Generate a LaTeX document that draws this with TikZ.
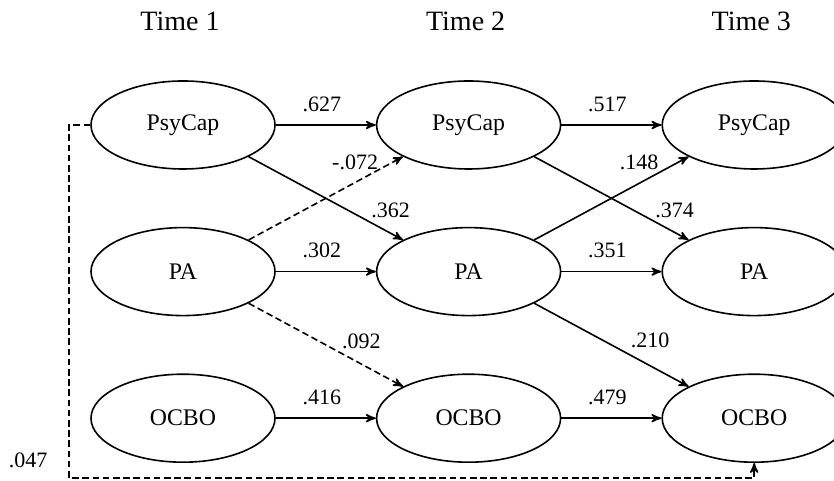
\documentclass[tikz,border=0pt]{standalone}
\usepackage{fontspec}
\setmainfont{Liberation Serif}
\usetikzlibrary{arrows,positioning,shapes.geometric}

\begin{document}
\begin{tikzpicture}[>=stealth', line width=0.8pt, node distance=28.5pt and 50pt,
		var/.style={ellipse, draw, minimum width=92pt, minimum height=44pt, inner sep=0pt, font=\fontsize{11.9}{14}\selectfont},
		lbl/.style={font=\fontsize{11}{13}\selectfont, inner sep=0pt},
		ttl/.style={font=\fontsize{14}{16}\selectfont, xshift=-1.5pt},
		dsh/.style={dash pattern=on 3.3pt off 1.8pt}]
		\useasboundingbox (0,0) rectangle (417pt,240.5pt);
		\node[var] (psy_1) at (91.5pt,178pt) {PsyCap};
		\node[var] [right=of psy_1] (psy_2) {PsyCap};
		\node[var] [right=of psy_2] (psy_3) {PsyCap};
		\node[var] [below=of psy_1] (pa_1) {PA};
		\node[var] [below=of psy_2] (pa_2) {PA};
		\node[var] [below=of psy_3] (pa_3) {PA};
		\node[var] [below=of pa_1] (ocbo_1) {OCBO};
		\node[var] [below=of pa_2] (ocbo_2) {OCBO};
		\node[var] [below=of pa_3] (ocbo_3) {OCBO};
		\node[ttl] [above=21pt of psy_1] (t_1) {Time 1};
		\node[ttl] [above=21pt of psy_2] (t_2) {Time 2};
		\node[ttl] [above=21pt of psy_3] (t_3) {Time 3};
		\path[->]
			(psy_1) edge node[lbl, midway, xshift=-2pt, yshift=10.5pt] (b_627) {.627} (psy_2)
			(psy_2) edge node[lbl, midway, xshift=-2pt, yshift=10.5pt] (b_517) {.517} (psy_3)
			(pa_1) edge node[lbl, midway, xshift=-2pt, yshift=10.5pt] (b_302) {.302} (pa_2)
			(pa_2) edge node[lbl, midway, xshift=-2pt, yshift=10.5pt] (b_351) {.351} (pa_3)
			(ocbo_1) edge node[lbl, midway, xshift=-2pt, yshift=10.5pt] (b_416) {.416} (ocbo_2)
			(ocbo_2) edge node[lbl, midway, xshift=-2pt, yshift=10.5pt] (b_479) {.479} (ocbo_3)
			(psy_1.south east) edge node[lbl, pos=.92, yshift=11.5pt] (b_362) {.362} (pa_2.north west)
			(pa_1.north east) edge[dsh] node[lbl, pos=.69, yshift=10pt] (b_072) {-.072} (psy_2.south west)
			(pa_1.south east) edge[dsh] node[lbl, pos=.73, yshift=11.5pt] (b_092) {.092} (ocbo_2.north west)
			(pa_2.north east) edge node[lbl, pos=.68, yshift=10.5pt] (b_148) {.148} (psy_3.south west)
			(psy_2.south east) edge node[lbl, pos=.91, yshift=11pt] (b_374) {.374} (pa_3.north west)
			(pa_2.south east) edge node[lbl, pos=.75, yshift=12.5pt] (b_210) {.210} (ocbo_3.north west);
		% lagged path from time 1 to time 3
		\coordinate (fb) at (34.5pt,1.5pt);
		\draw[dsh,->] (psy_1.west) -| (fb) -| (ocbo_3.south);
		\node[lbl] (b_047) at (14pt,10.5pt) {.047};
	\end{tikzpicture}
\end{document}
